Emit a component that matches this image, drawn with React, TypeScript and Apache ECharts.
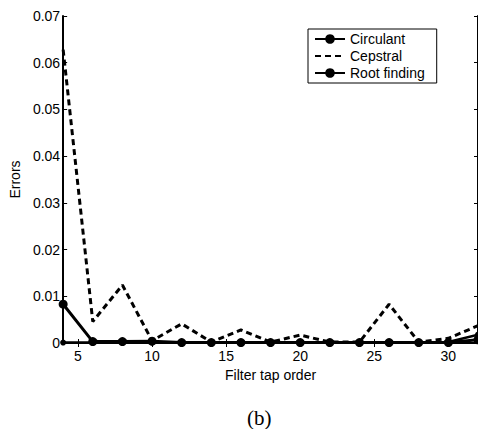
import React, { useEffect, useRef } from "react";
import * as echarts from "echarts";

const tapOrders = [4, 6, 8, 10, 12, 14, 16, 18, 20, 22, 24, 26, 28, 30, 32];
const circulant = [0.0083, 0.0003, 0.0003, 0.0004, 0.0001, 0.0001, 0.0001, 0.0001, 0.0001, 0.0001, 0.0001, 0.0001, 0.0001, 0.0001, 0.0007];
const cepstral = [0.0628, 0.0046, 0.0124, 0.0005, 0.0041, 0.0002, 0.0028, 0.0002, 0.0017, 0.0002, 0.0002, 0.0083, 0.0002, 0.001, 0.0037];
const rootFinding = [0.0001, 0.0001, 0.0001, 0.0001, 0.0001, 0.0001, 0.0001, 0.0001, 0.0001, 0.0001, 0.0001, 0.0001, 0.0001, 0.0002, 0.0018];
const xTicks = [5, 10, 15, 20, 25, 30];

export default function App() {
  const ref = useRef<HTMLDivElement>(null);
  useEffect(() => {
    if (!ref.current) return;
    const chart = echarts.init(ref.current, null, { renderer: "svg" });
    const font = "Liberation Sans, Arial, sans-serif";
    const pairs = (ys: number[]) => tapOrders.map((x, i) => [x, ys[i]]);
    const tickStyle = { lineStyle: { color: "#000", width: 1 } };
    chart.setOption({
      animation: false,
      backgroundColor: "#fff",
      grid: { left: 61, top: 16, right: 0, bottom: 86, show: false },
      legend: {
        left: 308,
        top: 29,
        orient: "vertical",
        borderColor: "#000",
        borderWidth: 1,
        padding: [3, 12, 3, 6],
        itemGap: 3,
        itemWidth: 30,
        itemHeight: 12,
        backgroundColor: "#fff",
        textStyle: { fontFamily: font, fontSize: 14, color: "#000" },
        data: [
          "Circulant",
          { name: "Cepstral", itemStyle: { opacity: 0 } },
          "Root finding",
        ],
      },
      xAxis: [
        {
          type: "value",
          min: 4,
          max: 32,
          name: "Filter tap order",
          nameLocation: "middle",
          nameGap: 23,
          nameTextStyle: { fontFamily: font, fontSize: 14, color: "#000" },
          axisLine: { show: true, lineStyle: { color: "#000", width: 2 } },
          axisTick: { inside: true, length: 4, customValues: xTicks, ...tickStyle },
          axisLabel: { customValues: xTicks, fontFamily: font, fontSize: 14, color: "#000", margin: 6 },
          splitLine: { show: false },
        },
        {
          type: "value",
          min: 4,
          max: 32,
          position: "top",
          axisLine: { show: true, lineStyle: { color: "#000", width: 2 } },
          axisTick: { inside: true, length: 4, customValues: xTicks, ...tickStyle },
          axisLabel: { show: false },
          splitLine: { show: false },
        },
      ],
      yAxis: [
        {
          type: "value",
          min: 0,
          max: 0.07,
          interval: 0.01,
          name: "Errors",
          nameLocation: "middle",
          nameGap: 40,
          nameTextStyle: { fontFamily: font, fontSize: 14, color: "#000" },
          axisLine: { show: true, lineStyle: { color: "#000", width: 2 } },
          axisTick: { inside: true, length: 4, ...tickStyle },
          axisLabel: {
            fontFamily: font,
            fontSize: 14,
            color: "#000",
            margin: 3,
            formatter: (v: number) => (v === 0 ? "0" : v.toFixed(2)),
          },
          splitLine: { show: false },
        },
        {
          type: "value",
          min: 0,
          max: 0.07,
          interval: 0.01,
          position: "right",
          axisLine: { show: true, lineStyle: { color: "#000", width: 2 } },
          axisTick: { inside: true, length: 4, ...tickStyle },
          axisLabel: { show: false },
          splitLine: { show: false },
        },
      ],
      series: [
        {
          name: "Circulant",
          type: "line",
          data: pairs(circulant),
          symbol: "circle",
          symbolSize: 9,
          lineStyle: { color: "#000", width: 3 },
          itemStyle: { color: "#000" },
          z: 4,
        },
        {
          name: "Cepstral",
          type: "line",
          data: pairs(cepstral),
          symbol: "none",
          lineStyle: { color: "#000", width: 3, type: [6, 4] },
          itemStyle: { color: "#000" },
          z: 2,
        },
        {
          name: "Root finding",
          type: "line",
          data: pairs(rootFinding),
          symbol: "circle",
          symbolSize: 6,
          lineStyle: { color: "#000", width: 2.5 },
          itemStyle: { color: "#000" },
          z: 3,
        },
      ],
      graphic: [
        {
          type: "text",
          left: 247,
          top: 407,
          style: { text: "(b)", font: "21px 'Liberation Serif', 'DejaVu Serif', serif", fill: "#000" },
        },
      ],
    });
    return () => chart.dispose();
  }, []);
  return (
    <div
      ref={ref}
      style={{ position: "fixed", left: 0, top: 0, width: 478, height: 429, background: "#fff" }}
    />
  );
}
